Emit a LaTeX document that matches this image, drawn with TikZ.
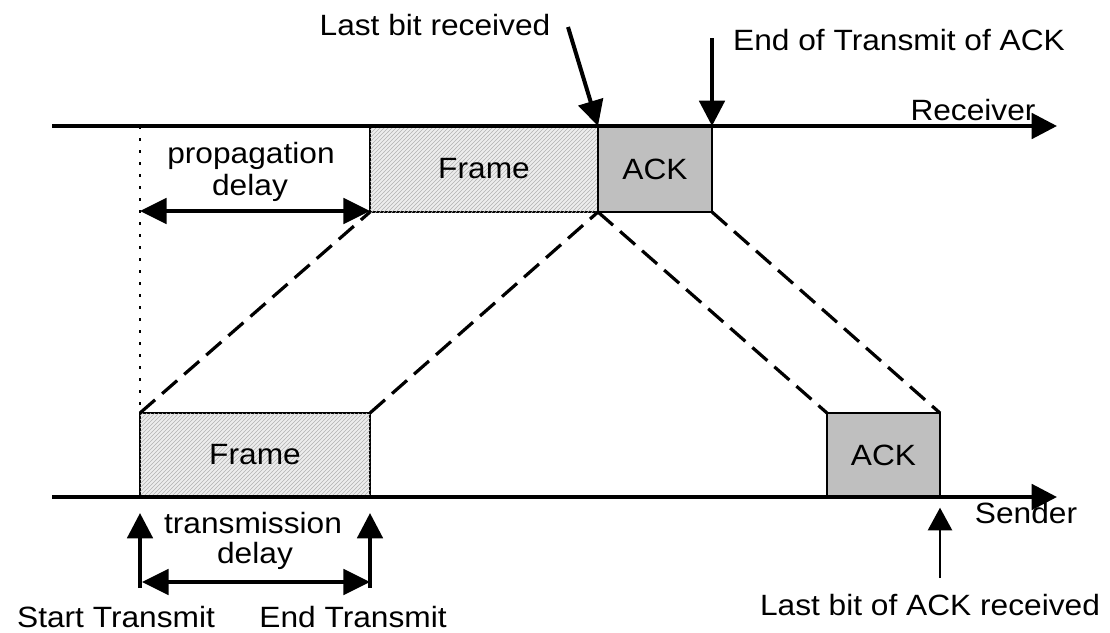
\documentclass[tikz,border=0pt]{standalone}
\usepackage{fontspec}
\setmainfont{Liberation Sans}[FakeStretch=1.08]
\usetikzlibrary{arrows.meta,patterns}
\tikzset{
  axis/.style={line width=3pt,-{Triangle[length=19pt,width=19pt]}},
  mark arrow/.style={line width=3pt,-{Triangle[length=19pt,width=19pt]}},
  thin arrow/.style={line width=1.8pt,-{Triangle[length=17pt,width=18pt]}},
  span arrow/.style={line width=3pt,{Triangle[length=20pt,width=19pt]}-{Triangle[length=20pt,width=19pt]}},
  framebox/.style={draw,line width=2pt,inner sep=0pt,outer sep=0pt,fill=gray!14,
    postaction={pattern=north east lines,pattern color=gray!60}},
  ackbox/.style={draw,line width=2pt,inner sep=0pt,outer sep=0pt,fill=gray!50},
  link/.style={line width=2.4pt,dash pattern=on 15pt off 7pt},
  lbl/.style={anchor=base,inner sep=0pt}
}
\begin{document}
\begin{tikzpicture}[x=0.75pt,y=-0.75pt,font=\fontsize{22}{26}\selectfont]
\useasboundingbox (0,0) rectangle (1110,632);
\node[framebox,minimum width=228*0.75pt,minimum height=86*0.75pt] (rframe) at (484,169) {Frame};
\node[ackbox,minimum width=114*0.75pt,minimum height=86*0.75pt] (rack) at (655,169) {ACK};
\node[framebox,minimum width=230*0.75pt,minimum height=84*0.75pt] (sframe) at (255,455) {Frame};
\node[ackbox,minimum width=113*0.75pt,minimum height=84*0.75pt] (sack) at (883.5,455) {ACK};
\coordinate (rstart) at (52,126);
\coordinate (rend) at (1057,126);
\coordinate (sstart) at (52,497);
\coordinate (send) at (1057,497);
\draw[axis] (rstart) -- (rend);
\draw[axis] (sstart) -- (send);
\node[lbl] (rname) at (973,120) {Receiver};
\node[lbl] (sname) at (1026,523) {Sender};
\draw[line width=2pt,dash pattern=on 2pt off 7pt] (140,126) -- (sframe.north west);
\draw[link] (sframe.north west) -- (rframe.south west);
\draw[link] (sframe.north east) -- (rframe.south east);
\draw[link] (rack.south west) -- (sack.north west);
\draw[link] (rack.south east) -- (sack.north east);
\node[lbl] (prop) at (251,163) {propagation};
\node[lbl] (propd) at (250,195) {delay};
\coordinate (pleft) at (140,211);
\draw[span arrow] (pleft) -- (pleft -| rframe.west);
\node[lbl] (trans) at (253,533) {transmission};
\node[lbl] (transd) at (255,563) {delay};
\coordinate (tleft) at (142,582);
\draw[span arrow] (tleft) -- (tleft -| sframe.east);
\coordinate (tstart) at (140,588);
\coordinate (tend) at (370,588);
\draw[mark arrow,shorten >=12pt] (tstart) -- (sframe.south west);
\draw[mark arrow,shorten >=12pt] (tend) -- (sframe.south east);
\node[lbl] (start) at (116,627) {Start Transmit};
\node[lbl] (stop) at (353,627) {End Transmit};
\node[lbl] (lastbit) at (435,35) {Last bit received};
\coordinate (lastfrom) at (568,27);
\draw[mark arrow] (lastfrom) -- (rframe.north east);
\node[lbl] (endack) at (899,50) {End of Transmit of ACK};
\coordinate (endfrom) at (712,38);
\draw[mark arrow] (endfrom) -- (rack.north east);
\node[lbl] (ackrx) at (930,615) {Last bit of ACK received};
\coordinate (ackfrom) at (940,578);
\draw[thin arrow,shorten >=8pt] (ackfrom) -- (sack.south east);
\end{tikzpicture}
\end{document}
